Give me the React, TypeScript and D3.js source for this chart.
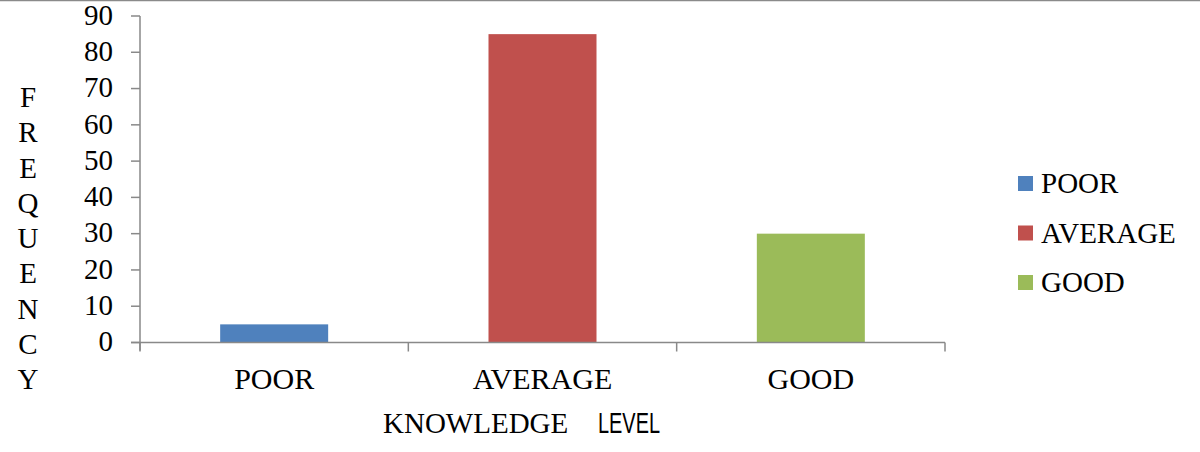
import React from "react";
import * as d3 from "d3";

const categories = ["POOR", "AVERAGE", "GOOD"];
const values = [5, 85, 30];
const colors = ["#4F81BD", "#C0504D", "#9BBB59"];
const yTicks = [0, 10, 20, 30, 40, 50, 60, 70, 80, 90];
const yLabelLetters = "FREQUENCY".split("");

const W = 1200;
const H = 452;
const serif = "'Liberation Serif', 'Times New Roman', serif";
const sans = "'Liberation Sans', Arial, sans-serif";

export default function App() {
  const xOuter = d3.scaleBand<string>().domain(categories).range([140, 945]);
  const y = d3.scaleLinear().domain([0, 90]).range([342.5, 16]);
  const axisColor = "#898989";
  const catTicks = [...categories.map((c) => xOuter(c) as number), 945];
  const serifStyle = { fontFamily: serif };

  return (
    <>
      <style>{`body{margin:0}`}</style>
      <svg width={W} height={H} style={{ display: "block", background: "#fff" }}>
        <line x1={0} x2={W} y1={0.5} y2={0.5} stroke="#8a8a8a" strokeWidth={1.5} />
        {/* bars */}
        {categories.map((c, i) => (
          <rect
            key={c}
            x={(xOuter(c) as number) + xOuter.bandwidth() / 2 - 54}
            width={108}
            y={y(values[i])}
            height={y(0) - y(values[i])}
            fill={colors[i]}
          />
        ))}
        {/* y axis */}
        <line x1={140} x2={140} y1={y(90)} y2={y(0) + 8} stroke={axisColor} strokeWidth={1.5} />
        {yTicks.map((t) => (
          <g key={t}>
            <line x1={131} x2={140} y1={y(t)} y2={y(t)} stroke={axisColor} strokeWidth={1.5} />
            <text x={113} y={y(t)} dy="0.3em" textAnchor="end" style={serifStyle} fontSize={29} fill="#000">
              {t}
            </text>
          </g>
        ))}
        {/* x axis */}
        <line x1={131} x2={945} y1={y(0)} y2={y(0)} stroke={axisColor} strokeWidth={1.5} />
        {catTicks.map((p, i) => (
          <line key={i} x1={p} x2={p} y1={y(0)} y2={y(0) + 9} stroke={axisColor} strokeWidth={1.5} />
        ))}
        {categories.map((c) => (
          <text
            key={c}
            x={(xOuter(c) as number) + xOuter.bandwidth() / 2}
            y={389}
            textAnchor="middle"
            style={serifStyle}
            fontSize={30}
            fill="#000"
          >
            {c}
          </text>
        ))}
        {/* x axis title */}
        <text x={383} y={433} style={serifStyle} fontSize={29} fill="#000">
          KNOWLEDGE
        </text>
        <text x={598} y={433} style={{ fontFamily: sans }} fontSize={29} textLength={62} lengthAdjust="spacingAndGlyphs" fill="#000">
          LEVEL
        </text>
        {/* y axis title */}
        {yLabelLetters.map((l, i) => (
          <text key={i} x={28} y={107 + i * 35.25} textAnchor="middle" style={serifStyle} fontSize={29} fill="#000">
            {l}
          </text>
        ))}
        {/* legend */}
        {categories.map((c, i) => (
          <g key={c}>
            <rect x={1018} y={176 + i * 49.5} width={15} height={15} fill={colors[i]} />
            <text x={1041} y={193 + i * 49.5} style={serifStyle} fontSize={29} fill="#000">
              {c}
            </text>
          </g>
        ))}
      </svg>
    </>
  );
}
